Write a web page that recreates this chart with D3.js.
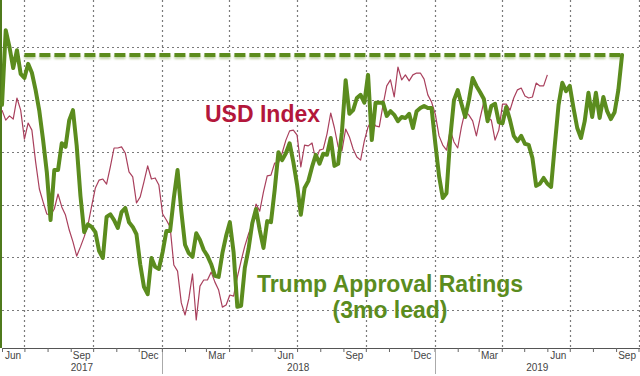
<!DOCTYPE html>
<html>
<head>
<meta charset="utf-8">
<script src="https://cdn.jsdelivr.net/npm/d3@7"></script>
<style>
  body { margin: 0; background: #fff; }
  svg { display: block; font-family: "Liberation Sans", Arial, sans-serif; }
  .axis text { fill: #444; font-size: 10px; }
</style>
</head>
<body>
<svg width="640" height="376"></svg>
<script>
// both series are 5-day samples starting 1 Jun 2017
var startDate = new Date(2017, 5, 1);
var stepDays = 5;

// Trump approval (%), shifted 3 months forward
var approval = [
  41.90, 43.32, 43.00, 42.60, 42.94, 42.49, 42.41, 42.68, 42.51, 42.18,
  41.78, 41.23, 40.62, 39.71, 40.66, 40.66, 41.17, 41.10, 41.61, 41.80,
  41.12, 40.17, 39.48, 39.63, 39.58, 39.48, 39.12, 38.99, 39.77, 39.82,
  39.71, 39.56, 39.86, 39.94, 39.67, 39.58, 39.44, 38.87, 38.44, 38.30,
  38.99, 38.82, 38.78, 39.10, 39.50, 39.50, 40.13, 40.66, 39.88, 39.24,
  39.08, 39.01, 39.46, 39.33, 39.14, 39.03, 38.87, 38.65, 38.63, 39.08,
  39.41, 39.67, 39.10, 38.06, 38.08, 38.80, 39.16, 39.65, 39.92, 39.52,
  39.18, 39.69, 39.67, 40.28, 41.00, 40.85, 40.98, 41.17, 40.81, 40.38,
  39.81, 40.32, 40.45, 40.72, 40.95, 40.78, 40.97, 40.95, 41.27, 40.74,
  40.78, 41.38, 42.37, 41.73, 41.80, 42.03, 42.09, 41.94, 42.47, 41.23,
  41.94, 41.94, 41.94, 41.69, 41.78, 41.71, 41.59, 41.67, 41.65, 41.73,
  41.46, 41.78, 41.84, 41.88, 41.84, 41.84, 41.17, 40.55, 40.13, 40.22,
  41.27, 41.99, 42.18, 41.92, 41.67, 41.99, 42.41, 42.26, 42.14, 42.01,
  41.59, 41.88, 41.92, 41.57, 41.55, 41.86, 41.61, 41.31, 41.21, 41.31,
  41.16, 41.14, 40.89, 40.36, 40.40, 40.51, 40.40, 40.34, 41.14, 41.90,
  42.32, 42.16, 42.26, 41.84, 41.46, 41.27, 41.59, 42.13, 41.67, 42.13,
  41.65, 42.05, 41.78, 41.63, 41.76, 42.18, 42.85
];

// USD index (DXY)
var usdIndex = [
  96.60, 96.22, 96.38, 96.26, 97.06, 96.60, 95.50, 96.11, 95.84, 94.63,
  93.60, 93.11, 92.65, 92.61, 92.84, 93.41, 92.92, 92.61, 92.04, 91.59,
  91.05, 91.40, 91.78, 92.23, 92.95, 93.64, 93.94, 93.98, 93.79, 94.44,
  95.16, 95.16, 95.20, 94.97, 94.25, 94.06, 93.07, 93.30, 93.87, 94.48,
  93.98, 94.02, 93.75, 92.65, 92.42, 92.16, 90.71, 90.48, 89.27, 88.81,
  89.42, 90.37, 88.62, 89.91, 90.14, 90.14, 90.44, 90.06, 89.76, 89.11,
  89.19, 89.57, 89.53, 90.25, 90.86, 91.43, 91.89, 92.27, 93.03, 92.76,
  93.49, 94.10, 94.13, 94.59, 94.59, 94.97, 95.46, 95.81, 95.84, 95.65,
  94.44, 95.27, 95.24, 95.35, 94.70, 95.08, 95.12, 95.69, 96.49, 95.92,
  95.20, 95.05, 95.88, 95.58, 95.12, 94.82, 94.70, 95.43, 95.96, 96.22,
  96.00, 95.96, 96.79, 97.52, 97.75, 97.10, 98.24, 97.75, 97.94, 97.71,
  97.94, 98.01, 98.01, 97.78, 97.18, 96.91, 96.45, 95.62, 95.27, 95.08,
  95.84, 95.39, 95.16, 95.96, 96.57, 96.41, 96.19, 95.62, 96.30, 96.91,
  96.30, 96.22, 95.46, 95.84, 96.83, 96.83, 96.60, 97.06, 97.37, 97.44,
  97.14, 97.06, 97.10, 97.63, 97.52, 97.52, 97.94
];

var monthLabels = ["2017-06", "2017-09", "2017-12", "2018-03", "2018-06",
                   "2018-09", "2018-12", "2019-03", "2019-06", "2019-09"];
var yearLabels = ["2017", "2018", "2019"];
var approvalGrid = [38, 39, 40, 41, 42, 43];

var green = "#5b8c1e", red = "#a9405d";

var svg = d3.select("svg"),
  width = +svg.attr("width"),
  height = +svg.attr("height"),
  axisY = 348;

var start = startDate, end = new Date(2019, 9, 1);

var x = d3.scaleTime().domain([start, end]).range([2, 638.5]);
var yA = d3.scaleLinear().domain([38, 43]).range([310, 47]);   // approval
var yU = d3.scaleLinear().domain([89, 99]).range([310, 47]);   // USD index

function toPoints(arr) {
  return arr.map(function(v, i) {
    return { date: d3.timeDay.offset(startDate, i * stepDays), value: v };
  });
}
var approvalPts = toPoints(approval),
  usdPts = toPoints(usdIndex);

// soft shadow under the dashed level line (user-space region: the line has no height)
var defs = svg.append("defs");
defs.append("filter").attr("id", "shadow")
  .attr("filterUnits", "userSpaceOnUse")
  .attr("x", 0).attr("y", 30).attr("width", width).attr("height", 60)
  .append("feDropShadow")
  .attr("dx", 0).attr("dy", 2).attr("stdDeviation", 1.3)
  .attr("flood-color", green).attr("flood-opacity", 0.4);

// dotted grid
var grid = svg.append("g")
  .attr("fill", "none")
  .attr("stroke", "#7a7a7a")
  .attr("stroke-width", 1.2)
  .attr("stroke-dasharray", "2,3");
approvalGrid.forEach(function(v) {
  var yy = Math.round(yA(v)) + 0.5;
  grid.append("path").attr("d", "M2," + yy + "H" + width);
});
d3.timeMonth.every(3).range(start, d3.timeDay.offset(end, 1)).forEach(function(d) {
  var xx = Math.round(x(d)) + 0.5;
  grid.append("path").attr("d", "M" + xx + ",0V" + axisY);
});

// x axis: monthly ticks, labels centred in the month
svg.append("g")
  .attr("class", "axis")
  .attr("transform", "translate(0," + axisY + ")")
  .call(d3.axisBottom(x).ticks(d3.timeMonth.every(1)).tickSize(4).tickFormat(""))
  .call(function(g) {
    g.select(".domain").attr("stroke", "#555").attr("d", "M2,0.5H" + width);
    g.selectAll(".tick line").attr("stroke", "#666");
  });

var parseMonth = d3.timeParse("%Y-%m");
svg.append("g")
  .attr("class", "axis")
  .attr("transform", "translate(0," + (axisY + 1) + ")")
  .call(d3.axisBottom(x)
    .tickValues(monthLabels.map(function(m) { return d3.timeDay.offset(parseMonth(m), 14); }))
    .tickSize(0).tickPadding(3)
    .tickFormat(d3.timeFormat("%b")))
  .call(function(g) { g.select(".domain").remove(); });

// year separators and labels
var yearStarts = [new Date(2018, 0, 1), new Date(2019, 0, 1)];
svg.selectAll(".yearsep").data(yearStarts).enter().append("line")
  .attr("x1", function(d) { return Math.round(x(d)) + 0.5; })
  .attr("x2", function(d) { return Math.round(x(d)) + 0.5; })
  .attr("y1", 352).attr("y2", 374)
  .attr("stroke", "#aaa");

svg.append("g").attr("class", "axis").selectAll("text")
  .data(yearLabels).enter().append("text")
  .attr("x", function(d) {
    var a = d3.max([x(new Date(+d, 0, 1)), x.range()[0]]),
      b = d3.min([x(new Date(+d + 1, 0, 1)), width]);
    return (a + b) / 2;
  })
  .attr("y", 371)
  .attr("text-anchor", "middle")
  .text(function(d) { return d; });

// left axis line
svg.append("line")
  .attr("x1", 1).attr("x2", 1).attr("y1", 0).attr("y2", axisY)
  .attr("stroke", "#4f7a1c").attr("stroke-width", 2);

// series
var lineU = d3.line()
  .x(function(d) { return x(d.date); })
  .y(function(d) { return yU(d.value); });
var lineA = d3.line()
  .x(function(d) { return x(d.date); })
  .y(function(d) { return yA(d.value); });

svg.append("path")
  .datum(usdPts)
  .attr("fill", "none")
  .attr("stroke", red)
  .attr("stroke-width", 1.2)
  .attr("stroke-linejoin", "round")
  .attr("d", lineU);

svg.append("path")
  .datum(approvalPts)
  .attr("fill", "none")
  .attr("stroke", green)
  .attr("stroke-width", 4)
  .attr("stroke-linejoin", "round")
  .attr("stroke-linecap", "round")
  .attr("d", lineA);

// dashed line at latest approval level
var last = approvalPts[approvalPts.length - 1];
svg.append("line")
  .attr("x1", x(new Date(2017, 6, 1))).attr("x2", x(last.date))
  .attr("y1", yA(last.value)).attr("y2", yA(last.value))
  .attr("stroke", green)
  .attr("stroke-width", 4)
  .attr("stroke-dasharray", "11,4")
  .attr("filter", "url(#shadow)");

// annotations
svg.append("text")
  .attr("x", 205).attr("y", 122)
  .attr("fill", "#b3173b")
  .attr("font-size", 23).attr("font-weight", "bold")
  .text("USD Index");

var label = svg.append("text")
  .attr("fill", green)
  .attr("font-size", 23).attr("font-weight", "bold")
  .attr("text-anchor", "middle");
label.append("tspan").attr("x", 390).attr("y", 292).text("Trump Approval Ratings");
label.append("tspan").attr("x", 390).attr("y", 318).text("(3mo lead)");
</script>
</body>
</html>
